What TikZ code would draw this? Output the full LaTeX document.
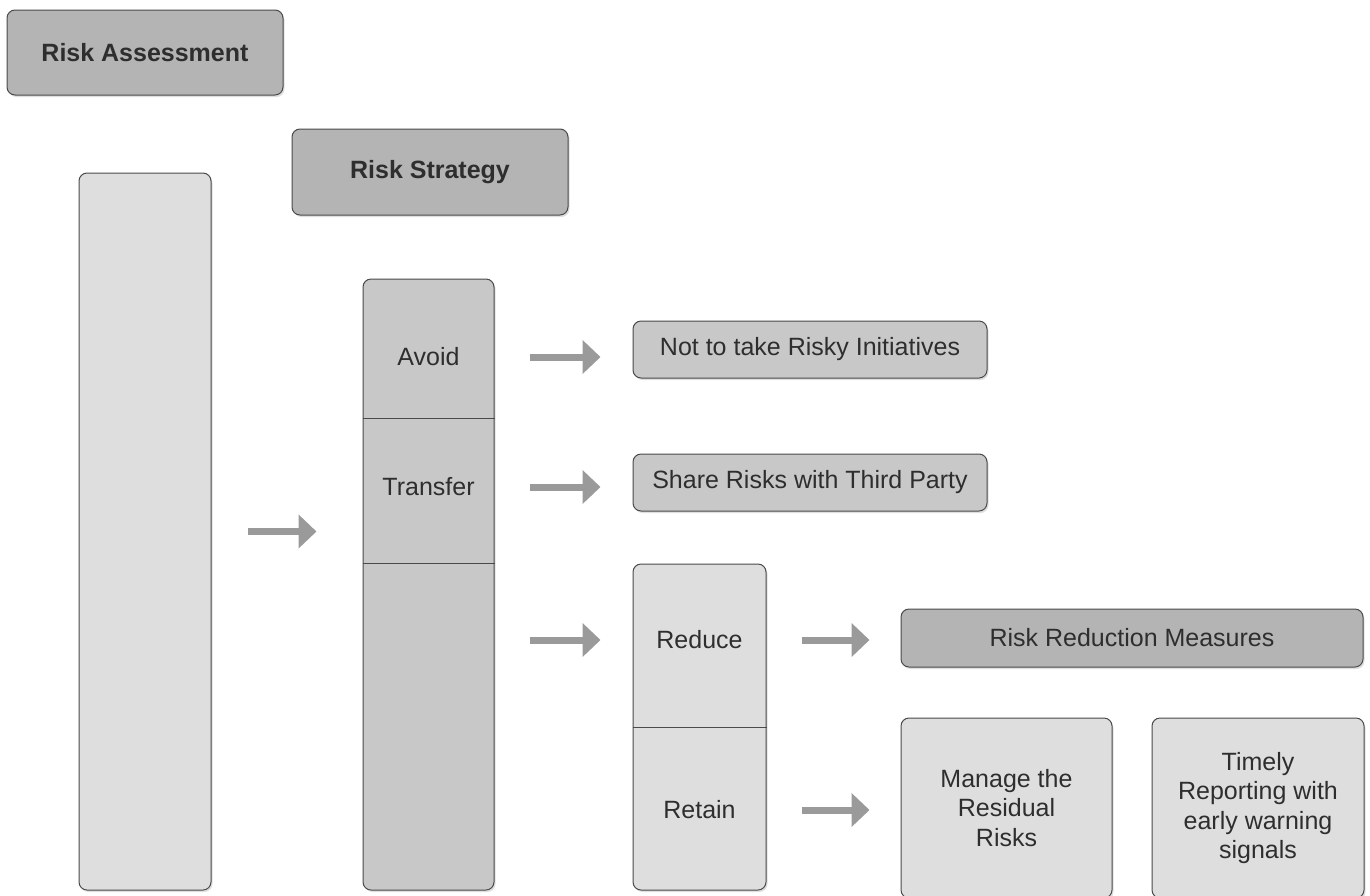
\documentclass[tikz,border=0pt]{standalone}
\usepackage{fontspec}
\setmainfont{Liberation Sans}
\usepackage{tikz}
\usetikzlibrary{calc,positioning,shapes}
\usetikzlibrary{shadows}
\usetikzlibrary{arrows.meta}
\definecolor{darkbox}{HTML}{B4B4B4}
\definecolor{midbox}{HTML}{C8C8C8}
\definecolor{lightbox}{HTML}{DEDEDE}
\definecolor{framegray}{HTML}{4A4A4A}
\definecolor{arrowgray}{HTML}{9A9A9A}
\definecolor{textgray}{HTML}{2E2E2E}
\tikzset{panel/.style = {draw=framegray, line width=1pt, rectangle, rounded corners=8pt,
                  inner sep=0pt, align=center, text=textgray,
                  drop shadow={shadow xshift=1.5pt, shadow yshift=-2pt, opacity=0.25}},
        flow/.style = {draw=arrowgray, line width=7pt,
                  -{Triangle[width=33pt,length=18pt]},
                  shorten <=35pt, shorten >=32pt}
    }

\begin{document}
\begin{tikzpicture}[x=1pt, y=-1pt,
    every node/.append style={font=\fontsize{25}{29.5}\selectfont}]
          \tikzstyle{dnode} = [panel, fill=darkbox]
          \tikzstyle{mnode} = [panel, fill=midbox]
          \tikzstyle{lnode} = [panel, fill=lightbox]
          \tikzstyle{label} = [text=textgray, inner sep=0pt]

          \useasboundingbox (0,0) rectangle (1370,895);

          % headings
          \node[dnode, minimum width=276pt, minimum height=85pt] (assess) at (145,52.5) {\textbf{Risk Assessment}};
          \node[dnode, minimum width=276pt, minimum height=86pt] (strat) at (430,172) {\textbf{Risk Strategy}};

          % columns
          \node[lnode, minimum width=132pt, minimum height=717pt] (scope) at (145,531.5) {};
          \node[mnode, minimum width=131pt, minimum height=611pt] (opts) at (428.5,584.5) {};
          \node[lnode, minimum width=133pt, minimum height=326pt] (red) at (699.5,727) {};

          \node[label] (avoid) at (428.5,357) {Avoid};
          \node[label] (transfer) at (428.5,487) {Transfer};
          \node[label] (reduce) at (699.5,640) {Reduce};
          \node[label] (retain) at (699.5,810) {Retain};

          \coordinate (d1) at (428.5,418);
          \coordinate (d2) at (428.5,563);
          \coordinate (d3) at (699.5,727);
          \draw[framegray, line width=1pt] (opts.west |- d1) -- (opts.east |- d1);
          \draw[framegray, line width=1pt] (opts.west |- d2) -- (opts.east |- d2);
          \draw[framegray, line width=1pt] (red.west |- d3) -- (red.east |- d3);

          % outcomes
          \node[mnode, minimum width=354pt, minimum height=57pt] (nottake) at (810,349.5) {Not to take Risky Initiatives};
          \node[mnode, minimum width=354pt, minimum height=57pt] (share) at (810,482.5) {Share Risks with Third Party};
          \node[dnode, minimum width=462pt, minimum height=58pt] (measures) at (1132,638) {Risk Reduction Measures};
          \node[lnode, minimum width=211pt, minimum height=180pt] (manage) at (1006.5,808) {Manage the\\Residual\\Risks};
          \node[lnode, minimum width=212pt, minimum height=180pt] (timely) at (1258,808) {Timely\\Reporting with\\early warning\\signals};

          % arrows
          \draw[flow, shorten <=36pt, shorten >=46pt] (scope.east) -- (scope.east -| opts.west);
          \draw[flow] (avoid -| opts.east) -- (avoid -| nottake.west);
          \draw[flow] (transfer -| opts.east) -- (transfer -| share.west);
          \draw[flow] (reduce -| opts.east) -- (reduce -| red.west);
          \draw[flow, shorten >=31pt] (reduce -| red.east) -- (reduce -| measures.west);
          \draw[flow, shorten >=31pt] (retain -| red.east) -- (retain -| manage.west);
        \end{tikzpicture}
\end{document}
